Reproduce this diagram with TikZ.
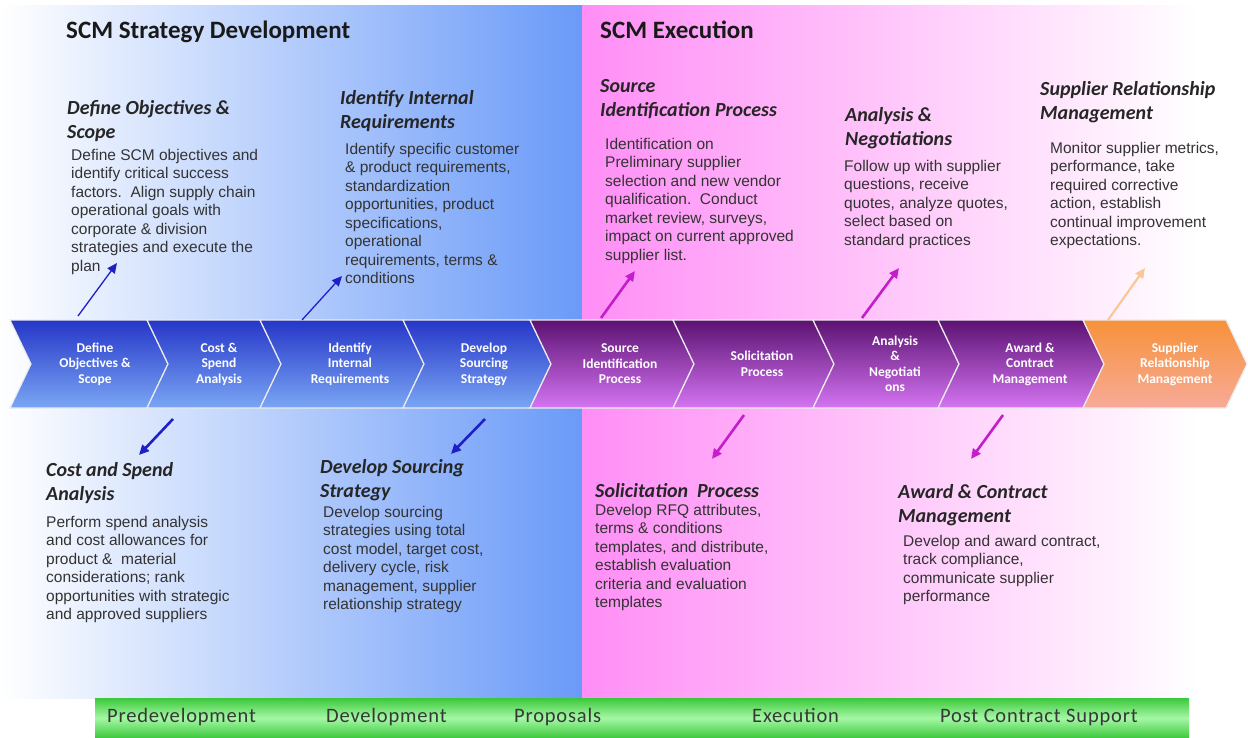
\documentclass[tikz,border=0pt]{standalone}
\usepackage{fontspec}
\setmainfont{Liberation Sans}
\newfontfamily\calfont{Carlito}
\newfontfamily\phasefont[LetterSpace=4]{Carlito}
\usetikzlibrary{arrows.meta}
\definecolor{bluep}{HTML}{6A9AF8}
\definecolor{pinkp}{HTML}{FF8EF6}
\definecolor{bluetop}{HTML}{2536C8}
\definecolor{bluebot}{HTML}{7AA6F4}
\definecolor{purtop}{HTML}{5C1272}
\definecolor{purbot}{HTML}{D474F2}
\definecolor{orgtop}{HTML}{F7923A}
\definecolor{orgbot}{HTML}{F7AA98}
\definecolor{txt}{HTML}{333333}
\definecolor{arrblue}{HTML}{1F1FC8}
\definecolor{arrmag}{HTML}{C41ECC}
\definecolor{arrpeach}{HTML}{F8C898}
\definecolor{grnedge}{HTML}{3CC83C}
\definecolor{grnmid}{HTML}{A4F8A4}
\tikzset{
  body/.style={anchor=north west, inner sep=0pt, align=left, text=txt,
    font=\fontsize{15.5}{18.5}\selectfont},
  head/.style={anchor=north west, inner sep=0pt, align=left, text=black!85,
    font=\calfont\bfseries\itshape\fontsize{20}{24}\selectfont},
  title/.style={anchor=base west, inner sep=0pt, text=black!90,
    font=\calfont\bfseries\fontsize{25}{30}\selectfont},
  chev/.style={draw=white!85!gray, line width=1.2pt},
  bluechev/.style={chev, top color=bluetop, bottom color=bluebot},
  purchev/.style={chev, top color=purtop, bottom color=purbot},
  orgchev/.style={chev, top color=orgtop, bottom color=orgbot},
  chevtxt/.style={align=center, text=white, inner sep=0pt,
    font=\calfont\bfseries\fontsize{13.5}{15.5}\selectfont},
  phase/.style={anchor=base west, inner sep=0pt, text=black!78,
    font=\phasefont\fontsize{20.5}{22}\selectfont},
  arr/.style={-{Triangle[length=10pt,width=9pt]}},
  upblue/.style={arr, draw=arrblue, line width=1.3pt},
  dnblue/.style={arr, draw=arrblue, line width=2.6pt},
  mag/.style={arr, draw=arrmag, line width=2.6pt},
  peach/.style={arr, draw=arrpeach, line width=2.2pt}
}
\begin{document}
\begin{tikzpicture}[x=1pt,y=-1pt]
\useasboundingbox (0,0) rectangle (1248,738);
\fill[white] (0,0) rectangle (1248,738);
% background panels
\shade[left color=white, right color=bluep] (0,6) rectangle (582,698);
\shade[left color=pinkp, right color=white] (582,6) rectangle (1198,698);
\fill[white] (1198,6) rectangle (1248,698);
% green phase bar
\shade[top color=grnedge, bottom color=grnedge, middle color=grnmid] (95,698) rectangle (1189,738);
\node[phase] (p1) at (107,722) {Predevelopment};
\node[phase] (p2) at (326,722) {Development};
\node[phase] (p3) at (514,722) {Proposals};
\node[phase] (p4) at (752,722) {Execution};
\node[phase] (p5) at (940,722) {Post Contract Support};
% titles
\node[title] (t1) at (66,39) {SCM Strategy Development};
\node[title] (t2) at (600,39) {SCM Execution};
% chevrons
\path[bluechev] (10,320) -- (147,320) -- (168,364) -- (147,408) -- (10,408) -- (31,364) -- cycle;
\path[bluechev] (147,320) -- (260,320) -- (281,364) -- (260,408) -- (147,408) -- (168,364) -- cycle;
\path[bluechev] (260,320) -- (403,320) -- (424,364) -- (403,408) -- (260,408) -- (281,364) -- cycle;
\path[bluechev] (403,320) -- (530,320) -- (551,364) -- (530,408) -- (403,408) -- (424,364) -- cycle;
\path[purchev] (530,320) -- (673,320) -- (694,364) -- (673,408) -- (530,408) -- (551,364) -- cycle;
\path[purchev] (673,320) -- (813,320) -- (834,364) -- (813,408) -- (673,408) -- (694,364) -- cycle;
\path[purchev] (813,320) -- (938,320) -- (959,364) -- (938,408) -- (813,408) -- (834,364) -- cycle;
\path[purchev] (938,320) -- (1083,320) -- (1104,364) -- (1083,408) -- (938,408) -- (959,364) -- cycle;
\path[orgchev] (1083,320) -- (1226,320) -- (1247,364) -- (1226,408) -- (1083,408) -- (1104,364) -- cycle;
\node[chevtxt] (c1) at (95,364) {Define\\Objectives \&\\Scope};
\node[chevtxt] (c2) at (219,364) {Cost \&\\Spend\\Analysis};
\node[chevtxt] (c3) at (350,364) {Identify\\Internal\\Requirements};
\node[chevtxt] (c4) at (484,364) {Develop\\Sourcing\\Strategy};
\node[chevtxt] (c5) at (620,364) {Source\\Identification\\Process};
\node[chevtxt] (c6) at (762,364) {Solicitation\\Process};
\node[chevtxt] (c7) at (895,364) {Analysis\\\&\\Negotiati\\ons};
\node[chevtxt] (c8) at (1030,364) {Award \&\\Contract\\Management};
\node[chevtxt] (c9) at (1175,364) {Supplier\\Relationship\\Management};
% upper headings and texts
\node[head] (h1) at (67,100) {Define Objectives \&\\Scope};
\node[body] (b1) at (71,149) {Define SCM objectives and\\identify critical success\\factors.\ \ Align supply chain\\operational goals with\\corporate \& division\\strategies and execute the\\plan};
\node[head] (h3) at (340,90) {Identify Internal\\Requirements};
\node[body] (b3) at (345,143) {Identify specific customer\\\& product requirements,\\standardization\\opportunities, product\\specifications,\\operational\\requirements, terms \&\\conditions};
\node[head] (h5) at (600,79) {Source\\Identification Process};
\node[body] (b5) at (605,138) {Identification on\\Preliminary supplier\\selection and new vendor\\qualification.\ \ Conduct\\market review, surveys,\\impact on current approved\\supplier list.};
\node[head] (h7) at (845,107) {Analysis \&\\Negotiations};
\node[body] (b7) at (844,160) {Follow up with supplier\\questions, receive\\quotes, analyze quotes,\\select based on\\standard practices};
\node[head] (h9) at (1040,81) {Supplier Relationship\\Management};
\node[body] (b9) at (1050,142) {Monitor supplier metrics,\\performance, take\\required corrective\\action, establish\\continual improvement\\expectations.};
% lower headings and texts
\node[head] (h2) at (46,462) {Cost and Spend\\Analysis};
\node[body] (b2) at (46,516) {Perform spend analysis\\and cost allowances for\\product \&\ \ material\\considerations; rank\\opportunities with strategic\\and approved suppliers};
\node[head] (h4) at (320,459) {Develop Sourcing\\Strategy};
\node[body] (b4) at (323,506) {Develop sourcing\\strategies using total\\cost model, target cost,\\delivery cycle, risk\\management, supplier\\relationship strategy};
\node[head] (h6) at (595,483) {Solicitation\ \ Process};
\node[body] (b6) at (595,504) {Develop RFQ attributes,\\terms \& conditions\\templates, and distribute,\\establish evaluation\\criteria and evaluation\\templates};
\node[head] (h8) at (898,484) {Award \& Contract\\Management};
\node[body] (b8) at (903,535) {Develop and award contract,\\track compliance,\\communicate supplier\\performance};
% arrow end points
\coordinate (a1s) at (78,316);  \coordinate (a1e) at (117,263);
\coordinate (a3s) at (302,320); \coordinate (a3e) at (342,276);
\coordinate (a5s) at (601,318); \coordinate (a5e) at (635,271);
\coordinate (a7s) at (862,318); \coordinate (a7e) at (899,268);
\coordinate (a9s) at (1108,320);\coordinate (a9e) at (1145,268);
\coordinate (a2s) at (173,419); \coordinate (a2e) at (139,455);
\coordinate (a4s) at (485,419); \coordinate (a4e) at (451,454);
\coordinate (a6s) at (744,415); \coordinate (a6e) at (712,459);
\coordinate (a8s) at (1003,415);\coordinate (a8e) at (971,459);
\draw[upblue] (a1s) -- (a1e);
\draw[upblue] (a3s) -- (a3e);
\draw[mag] (a5s) -- (a5e);
\draw[mag] (a7s) -- (a7e);
\draw[peach] (a9s) -- (a9e);
\draw[dnblue] (a2s) -- (a2e);
\draw[dnblue] (a4s) -- (a4e);
\draw[mag] (a6s) -- (a6e);
\draw[mag] (a8s) -- (a8e);
\end{tikzpicture}
\end{document}
